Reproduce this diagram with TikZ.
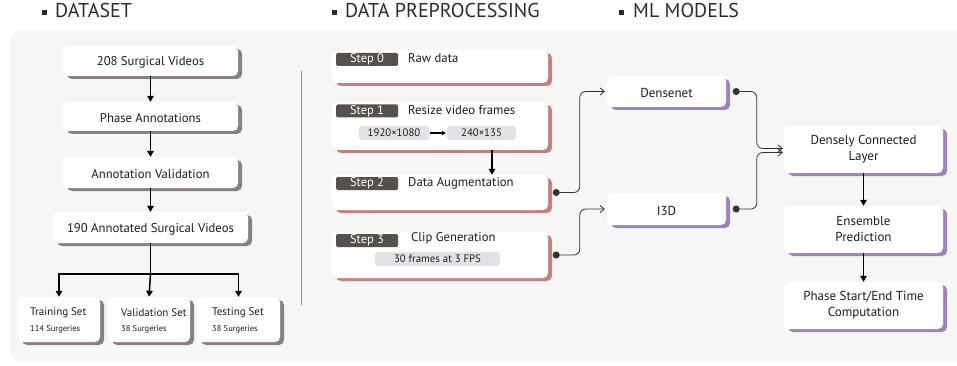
\documentclass[tikz,border=0pt]{standalone}
\usepackage{fontspec}
\setmainfont{PT Sans}
\usetikzlibrary{arrows.meta,shadows,calc}
\definecolor{bgc}{HTML}{F6F6F6}
\definecolor{txt}{HTML}{1E1B1C}
\definecolor{hdr}{HTML}{2B2B2B}
\definecolor{graysh}{HTML}{87827F}
\definecolor{pinksh}{HTML}{C47F7F}
\definecolor{purpsh}{HTML}{9F82BA}
\definecolor{steplab}{HTML}{58504D}
\definecolor{subfill}{HTML}{DFE3E7}
\definecolor{divc}{HTML}{8C8C8C}
\definecolor{connc}{HTML}{333333}
\tikzset{
  box/.style={fill=white, rounded corners=5pt, align=center, text=txt, inner sep=0pt,
    font=\fontsize{12.7}{16}\selectfont, execute at begin node={\rule{0pt}{12.5pt}}},
  dbox/.style={box, general shadow={fill=graysh, shadow xshift=4pt, shadow yshift=-3pt}},
  pbox/.style={box, general shadow={fill=pinksh, shadow xshift=4pt, shadow yshift=-3pt}},
  mbox/.style={box, font=\fontsize{13}{16}\selectfont,
    general shadow={fill=purpsh, shadow xshift=4pt, shadow yshift=-3pt}},
  steptag/.style={fill=steplab, rounded corners=1.5pt, text=white, inner sep=0pt,
    minimum width=62pt, minimum height=13pt, font=\fontsize{12.5}{13}\selectfont},
  sublab/.style={fill=subfill, rounded corners=3pt, text=txt, inner sep=0pt,
    minimum height=14pt, font=\fontsize{10.8}{12}\selectfont},
  ttl/.style={anchor=west, inner sep=0pt, text=txt, font=\fontsize{12.7}{14}\selectfont},
  hdrtext/.style={anchor=base west, inner sep=0pt, text=hdr, font=\fontsize{20}{22}\selectfont},
  bullet/.style={fill=hdr, inner sep=0pt, minimum size=5.5pt},
  arr/.style={line width=1.5pt, -{Triangle[length=6pt,width=6.5pt]}},
  conn/.style={line width=0.8pt, draw=connc, rounded corners=6pt,
    {Circle[length=7pt]}-{Straight Barb[length=4pt,width=7pt]}},
}
\begin{document}
\begin{tikzpicture}[x=1pt,y=-1pt]
\useasboundingbox (0,0) rectangle (957,366);
\clip (0,0) rectangle (957,366);
\fill[bgc, rounded corners=12pt] (10,30) rectangle (990,362);

% headers
\node[bullet] (hb1) at (44.5,12.5) {};
\node[hdrtext] (h1) at (55,18) {DATASET};
\node[bullet] (hb2) at (334.5,12.5) {};
\node[hdrtext] (h2) at (345,18) {DATA PREPROCESSING};
\node[bullet] (hb3) at (621.5,12.5) {};
\node[hdrtext] (h3) at (633,18) {ML MODELS};

% divider
\draw[divc, line width=1pt] (301,71) -- (301,305);

% dataset
\node[dbox, minimum width=175pt, minimum height=30pt] (b1) at (150.5,61) {208 Surgical Videos};
\node[dbox, minimum width=175pt, minimum height=29pt] (b2) at (150.5,116.5) {Phase Annotations};
\node[dbox, minimum width=175pt, minimum height=31pt] (b3) at (150.5,172.5) {Annotation Validation};
\node[dbox, minimum width=195pt, minimum height=31pt] (b4) at (150.5,227.5) {190 Annotated Surgical Videos};
\node[dbox, minimum width=82pt, minimum height=45pt] (tr) at (59,319.5) {};
\node[dbox, minimum width=82pt, minimum height=45pt] (va) at (149,319.5) {};
\node[dbox, minimum width=83pt, minimum height=45pt] (te) at (238.5,319.5) {};
\node[ttl, font=\fontsize{11}{13}\selectfont] (trt) at (30,313) {Training Set};
\node[ttl, font=\fontsize{8.5}{10}\selectfont] (trs) at (30,329) {114 Surgeries};
\node[ttl, font=\fontsize{11}{13}\selectfont] (vat) at (121,313) {Validation Set};
\node[ttl, font=\fontsize{8.5}{10}\selectfont] (vas) at (121,329) {38 Surgeries};
\node[ttl, font=\fontsize{11}{13}\selectfont] (tet) at (212,313) {Testing Set};
\node[ttl, font=\fontsize{8.5}{10}\selectfont] (tes) at (212,329) {38 Surgeries};

\draw[arr] (b1.south) -- (b2.north);
\draw[arr] (b2.south) -- (b3.north);
\draw[arr] (b3.south) -- (b4.north);
\coordinate (split) at ($(b4.south)+(0,31)$);
\draw[line width=1.5pt] (b4.south) -- (split);
\draw[arr] (split) -- (va.north);
\draw[arr] (split) -| (tr.north);
\draw[arr] (split) -| (te.north);

% preprocessing
\node[pbox, minimum width=216pt, minimum height=33pt] (s0) at (440,66.5) {};
\node[pbox, minimum width=216pt, minimum height=48pt] (s1) at (440,126) {};
\node[pbox, minimum width=216pt, minimum height=35pt] (s2) at (440,192.5) {};
\node[pbox, minimum width=216pt, minimum height=46pt] (s3) at (440,255) {};
\node[steptag] (t0) at (367,59.5) {Step 0};
\node[steptag] (t1) at (367,111) {Step 1};
\node[steptag] (t2) at (367,183.5) {Step 2};
\node[steptag] (t3) at (367,240.5) {Step 3};
\node[ttl] (n0) at (408,58.5) {Raw data};
\node[ttl] (n1) at (408,110.5) {Resize video frames};
\node[ttl] (n2) at (408,183) {Data Augmentation};
\node[ttl] (n3) at (411,238.5) {Clip Generation};
\node[sublab, minimum width=70pt] (sz1) at (394,133) {1920×1080};
\node[sublab, minimum width=69pt] (sz2) at (481.5,133) {240×135};
\node[sublab, minimum width=125pt] (fr) at (437.5,259) {30 frames at 3 FPS};
\draw[line width=1.3pt, -{Triangle[length=4pt,width=4.5pt]}] ([xshift=1pt]sz1.east) -- ([xshift=-1pt]sz2.west);
\draw[arr] ([xshift=52pt]s1.south) -- ([xshift=52pt]s2.north);

% ML models
\node[mbox, minimum width=119pt, minimum height=31pt] (dn) at (666.5,91.5) {Densenet};
\node[mbox, minimum width=119pt, minimum height=32pt] (i3) at (666.5,209) {I3D};
\node[mbox, minimum width=159pt, minimum height=47pt] (dl) at (863.5,149.5) {Densely Connected\\Layer};
\node[mbox, minimum width=159pt, minimum height=47pt] (en) at (863.5,229.5) {Ensemble\\Prediction};
\node[mbox, minimum width=159pt, minimum height=47pt] (ph) at (863.5,305.5) {Phase Start/End Time\\Computation};
\draw[arr] (dl.south) -- (en.north);
\draw[arr] (en.south) -- (ph.north);

\draw[conn] ([xshift=4.5pt]s2.east) -| ([xshift=-27pt]dn.west) -- ([xshift=-2pt]dn.west);
\draw[conn] ([xshift=4.5pt]s3.east) -| ([xshift=-27pt]i3.west) -- ([xshift=-2pt]i3.west);
\draw[conn] ([xshift=6.5pt]dn.east) -| ([xshift=-27pt,yshift=1pt]dl.west) -- ([xshift=-1pt,yshift=1pt]dl.west);
\draw[conn] ([xshift=6.5pt]i3.east) -| ([xshift=-27pt,yshift=-3pt]dl.west) -- ([xshift=-1pt,yshift=-3pt]dl.west);
\end{tikzpicture}
\end{document}
